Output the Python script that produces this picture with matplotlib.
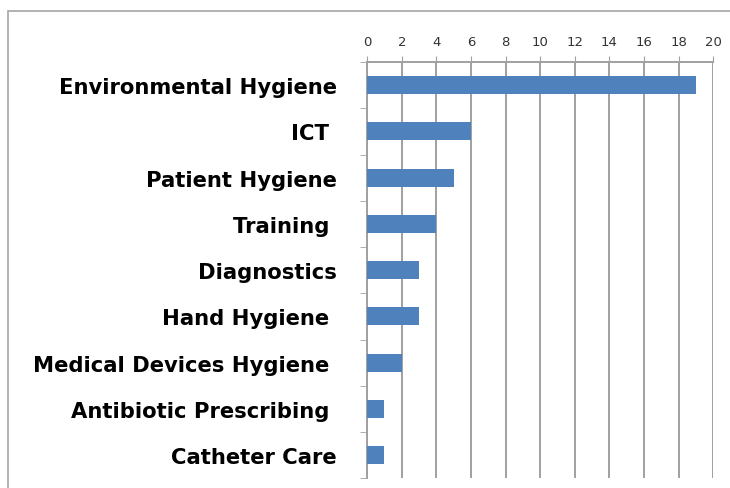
import matplotlib.pyplot as plt
from matplotlib.patches import Rectangle
from matplotlib.ticker import FixedLocator

categories = ["Environmental Hygiene", "ICT ", "Patient Hygiene", "Training ",
              "Diagnostics", "Hand Hygiene ", "Medical Devices Hygiene ",
              "Antibiotic Prescribing ", "Catheter Care"]
counts = [19, 6, 5, 4, 3, 3, 2, 1, 1]
xticks = list(range(0, 21, 2))

fig = plt.figure(figsize=(7.3, 4.89), dpi=100)
ax = fig.add_axes([0.503, 0.020, 0.474, 0.851])

# outer frame (only top/left visible in the reference crop)
fig.patches.append(Rectangle((8 / 730, -0.1), 1.2, 1 - 12 / 489 + 0.1,
                             transform=fig.transFigure, fill=False,
                             edgecolor="#a6a6a6", linewidth=1.2))

y = list(range(len(categories)))
ax.barh(y, counts, height=0.39, color="#4f81bd", zorder=3)
ax.set_ylim(len(categories) - 0.5, -0.5)
ax.set_xlim(0, 20)

ax.xaxis.tick_top()
ax.set_xticks(xticks)
ax.tick_params(axis="x", direction="out", length=4, color="#a0a0a0",
               labelsize=9.5, pad=6, labelcolor="#333333")
ax.grid(axis="x", color="#a0a0a0", linewidth=1.4, zorder=0)

ax.set_yticks(y)
ax.set_yticklabels(categories, fontsize=15.2, fontweight="bold",
                   family="DejaVu Sans", va="center_baseline")
ax.yaxis.set_minor_locator(FixedLocator([i + 0.5 for i in range(-1, len(categories))]))
ax.tick_params(axis="y", which="major", length=0, pad=22)
ax.tick_params(axis="y", which="minor", length=5, color="#a0a0a0")

for side in ["right", "bottom"]:
    ax.spines[side].set_visible(False)
for side in ["left", "top"]:
    ax.spines[side].set_color("#a0a0a0")
    ax.spines[side].set_linewidth(1.4)

fig.savefig("out.png", dpi=100)
